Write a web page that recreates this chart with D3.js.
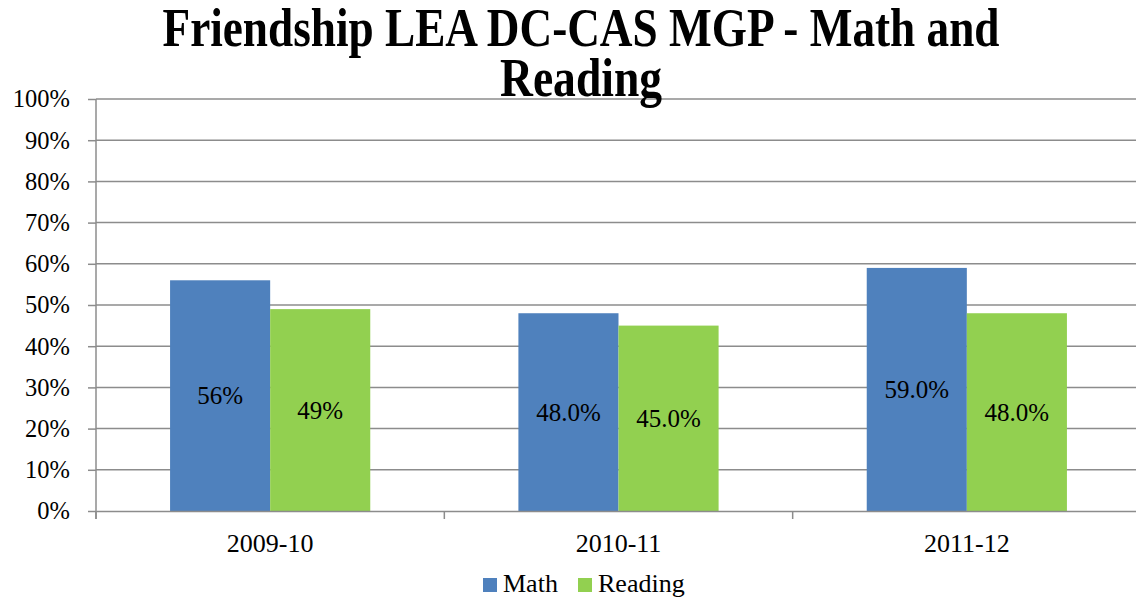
<!DOCTYPE html>
<html lang="en">
<head>
    <meta charset="UTF-8">
    <title>Friendship LEA DC-CAS MGP</title>
    <script src="https://cdn.jsdelivr.net/npm/d3@7"></script>
    <style>
        body { margin: 0; background: #fff; }
    </style>
</head>
<body>
    <svg id="chart" width="1136" height="599"></svg>
    <script>
        const years = ["2009-10", "2010-11", "2011-12"];
        const seriesNames = ["Math", "Reading"];
        const math = [56, 48, 59];
        const reading = [49, 45, 48];
        const mathLabels = ["56%", "48.0%", "59.0%"];
        const readingLabels = ["49%", "45.0%", "48.0%"];
        const yTicks = [0, 10, 20, 30, 40, 50, 60, 70, 80, 90, 100];
        const colors = ["#4F81BD", "#92D050"];

        const serif = "Liberation Serif";
        const svg = d3.select("#chart");
        const plotLeft = 96, plotRight = 1141, plotTop = 99, plotBottom = 511;

        const x = d3.scaleBand().domain(years).range([plotLeft, plotRight]);
        const inner = d3.scaleBand().domain(seriesNames).range([0, x.bandwidth()]).paddingOuter(0.74);
        const y = d3.scaleLinear().domain([0, 100]).range([plotBottom, plotTop]);

        // gridlines
        svg.append("g").selectAll("line").data(yTicks.filter(d => d > 0)).enter().append("line")
            .attr("x1", plotLeft).attr("x2", plotRight)
            .attr("y1", d => y(d)).attr("y2", d => y(d))
            .attr("stroke", "#8c8c8c").attr("stroke-width", 1.5);

        // title (squeezed horizontally like the original)
        const title = svg.append("g").style("font-family", serif).attr("font-weight", "bold")
            .attr("font-size", 54).attr("text-anchor", "middle");
        title.append("text").attr("x", 581).attr("y", 46)
            .attr("textLength", 837).attr("lengthAdjust", "spacingAndGlyphs")
            .text("Friendship LEA DC-CAS MGP - Math and");
        title.append("text").attr("x", 581).attr("y", 96)
            .attr("textLength", 162).attr("lengthAdjust", "spacingAndGlyphs")
            .text("Reading");

        // bars
        const rows = years.map((yr, i) => ({ yr, vals: [math[i], reading[i]], labels: [mathLabels[i], readingLabels[i]] }));
        const groups = svg.append("g").selectAll("g").data(rows).enter().append("g")
            .attr("transform", d => `translate(${x(d.yr)},0)`);
        groups.selectAll("rect").data(d => d.vals.map((v, j) => ({ s: seriesNames[j], v, j }))).enter().append("rect")
            .attr("x", d => inner(d.s))
            .attr("width", inner.bandwidth())
            .attr("y", d => y(d.v))
            .attr("height", d => y(0) - y(d.v))
            .attr("fill", d => colors[d.j]);
        groups.selectAll("text").data(d => d.vals.map((v, j) => ({ s: seriesNames[j], v, lab: d.labels[j] }))).enter().append("text")
            .attr("x", d => inner(d.s) + inner.bandwidth() / 2)
            .attr("y", d => (y(d.v) + y(0)) / 2)
            .attr("dy", "0.35em")
            .attr("text-anchor", "middle")
            .attr("font-size", 25)
            .style("font-family", serif)
            .text(d => d.lab);

        // y axis
        const yAxis = svg.append("g").attr("transform", `translate(${plotLeft},0)`)
            .call(d3.axisLeft(y).tickValues(yTicks).tickFormat(d => d + "%").tickSize(8).tickSizeOuter(0));
        yAxis.select(".domain").attr("stroke", "#8c8c8c").attr("stroke-width", 1.5).attr("d", `M0,${plotTop}V${plotBottom + 8}`);
        yAxis.selectAll(".tick line").attr("stroke", "#8c8c8c").attr("stroke-width", 1.5);
        yAxis.selectAll(".tick text").attr("font-size", 24.5).style("font-family", serif).attr("fill", "#000").attr("x", -26);

        // x axis
        const xAxis = svg.append("g").attr("transform", `translate(0,${plotBottom})`)
            .call(d3.axisBottom(x).tickSize(0).tickSizeOuter(0));
        xAxis.select(".domain").attr("stroke", "#8c8c8c").attr("stroke-width", 1.5);
        xAxis.selectAll(".tick text").attr("font-size", 26).style("font-family", serif).attr("fill", "#000").attr("dy", 0).attr("y", 41);
        svg.append("g").selectAll("line").data(years.concat(["end"])).enter().append("line")
            .attr("x1", d => d === "end" ? plotRight : x(d)).attr("x2", d => d === "end" ? plotRight : x(d))
            .attr("y1", plotBottom).attr("y2", plotBottom + 8)
            .attr("stroke", "#8c8c8c").attr("stroke-width", 1.5);

        // legend
        const legend = svg.append("g");
        const legX = [483, 578];
        seriesNames.forEach((s, i) => {
            legend.append("rect").attr("x", legX[i]).attr("y", 578).attr("width", 14).attr("height", 14).attr("fill", colors[i]);
            legend.append("text").attr("x", legX[i] + 20).attr("y", 592).attr("font-size", 26)
                .style("font-family", serif).text(s);
        });
    </script>
</body>
</html>
